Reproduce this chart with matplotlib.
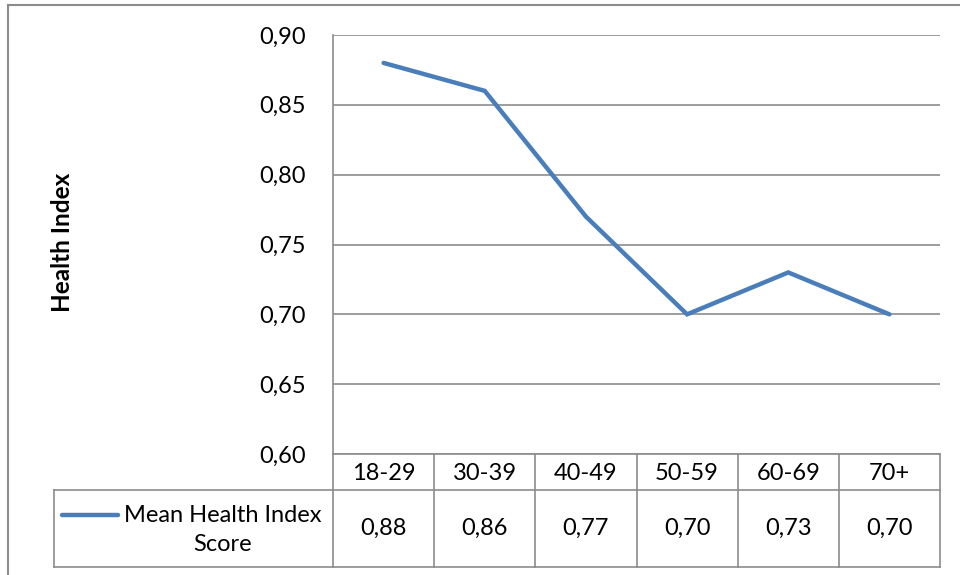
import matplotlib
matplotlib.use("Agg")
import matplotlib.pyplot as plt
from matplotlib.lines import Line2D
import matplotlib.transforms as mtrans

categories = ["18-29", "30-39", "40-49", "50-59", "60-69", "70+"]
values = [0.88, 0.86, 0.77, 0.70, 0.73, 0.70]
series_name = "Mean Health Index\nScore"
y_ticks = [0.60, 0.65, 0.70, 0.75, 0.80, 0.85, 0.90]
y_label = "Health Index"

plt.rcParams['font.family'] = ['Lato', 'DejaVu Sans']
FS = 17

W, H = 960, 575
fig = plt.figure(figsize=(W / 100, H / 100), dpi=100)

def fx(px):
    return px / W

def fy(py):
    return 1 - py / H

L, R, T, B = 333, 940, 35, 454
ax = fig.add_axes([fx(L), fy(B), fx(R) - fx(L), fy(T) - fy(B)])
ax.set_xlim(-0.5, len(categories) - 0.5)
ax.set_ylim(0.60, 0.90)
ax.set_yticks(y_ticks)
ax.set_yticklabels([f"{v:.2f}".replace(".", ",") for v in y_ticks], fontsize=FS)
ax.tick_params(axis='y', length=0, pad=19.5)
ax.set_xticks([])
grid_c = "#8c8c8c"
ax.yaxis.grid(True, color=grid_c, linewidth=1.2)
ax.set_axisbelow(True)
for s in ["right", "bottom", "top"]:
    ax.spines[s].set_visible(False)
ax.spines["left"].set_color(grid_c)
ax.spines["left"].set_linewidth(1.2)

xs = list(range(len(categories)))
ax.plot(xs, values, color="#4a7ebb", linewidth=3.2, solid_capstyle="round",
        solid_joinstyle="miter", zorder=3)

# y label
fig.text(fx(63), fy(242), y_label, rotation=90, fontsize=17.5, fontweight="bold",
         ha="center", va="center")

# data table (x in data coords, y in axes fraction)
trans = mtrans.blended_transform_factory(ax.transData, ax.transAxes)
ph = B - T
def ay(py):
    return (B - py) / ph

y_h0, y_h1, y_d1 = ay(454), ay(490), ay(567)
xl = -0.5 + (54 - L) / ((R - L) / len(categories))
xr = len(categories) - 0.5
tab_c = "#8c8c8c"
lw = 1.2
def hline(x0, x1, y):
    ax.add_line(Line2D([x0, x1], [y, y], transform=trans, color=tab_c, lw=lw, clip_on=False))
def vline(x, y0, y1):
    ax.add_line(Line2D([x, x], [y0, y1], transform=trans, color=tab_c, lw=lw, clip_on=False))

hline(-0.5, xr, y_h0)
hline(xl, xr, y_h1)
hline(xl, xr, y_d1)
vline(xl, y_h1, y_d1)
for i in range(len(categories) + 1):
    vline(i - 0.5, y_h0, y_d1)

for i, (c, v) in enumerate(zip(categories, values)):
    ax.text(i, (y_h0 + y_h1) / 2 - 0.003, c, transform=trans, ha="center", va="center",
            fontsize=FS, clip_on=False)
    ax.text(i, (y_h1 + y_d1) / 2, f"{v:.2f}".replace(".", ","), transform=trans,
            ha="center", va="center", fontsize=FS, clip_on=False)

# legend key in table
fig.add_artist(Line2D([fx(62), fx(118)], [fy(515), fy(515)], color="#4a7ebb",
                      linewidth=3.2, solid_capstyle="round"))
fig.text(fx(223), fy(530), series_name, ha="center", va="center", fontsize=FS,
         multialignment="center", linespacing=1.5)

# outer chart border
fig.add_artist(Line2D([fx(8), fx(8)], [fy(5), 0], color="#8c8c8c", lw=1.5))
fig.add_artist(Line2D([fx(8), 1], [fy(5), fy(5)], color="#8c8c8c", lw=1.5))

fig.savefig("out.png", dpi=100)
